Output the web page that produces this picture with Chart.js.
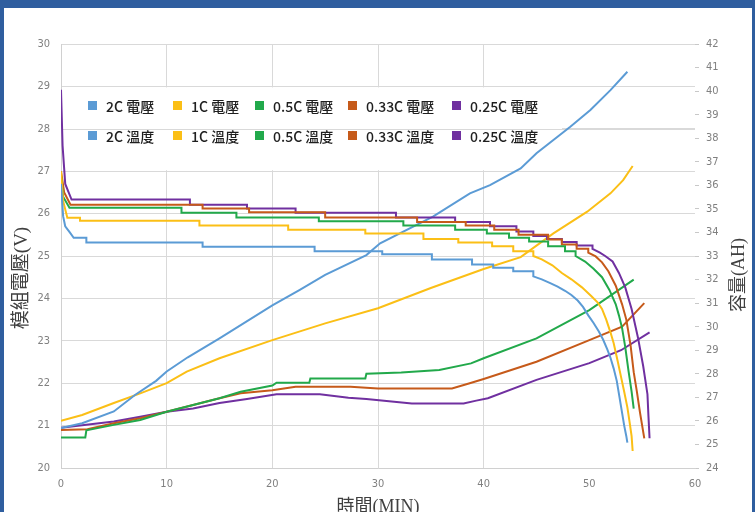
<!DOCTYPE html>
<html><head><meta charset="utf-8">
<script src="https://cdn.jsdelivr.net/npm/chart.js@4"></script>
<style>
html,body{margin:0;padding:0;background:#fff;}
#wrap{position:relative;width:755px;height:512px;overflow:hidden;background:#2f5e9f;}
#inner{position:absolute;left:4px;top:8px;width:748px;height:504px;background:#fff;}
#c{position:absolute;left:0;top:0;}
</style></head><body>
<div id="wrap"><div id="inner"></div><canvas id="c" width="755" height="512"></canvas></div>
<script>
// ---- categories / labels ----
const seriesNames = ['2C', '1C', '0.5C', '0.33C', '0.25C'];
const voltSuffix = ' 電壓';
const tempSuffix = ' 溫度';
const colors = ['#5b9bd5', '#fbbf16', '#22a94b', '#c65a1a', '#7030a0'];
const xTitle = '時間(MIN)';
const yLeftTitle = '模組電壓(V)';
const yRightTitle = '容量(AH)';

// ---- voltage series (left axis), time in minutes; repeated times = logged step changes ----
const timeV2C = [0, 0.2, 0.4, 0.85, 1.2, 2.4, 2.4, 13.4, 13.4, 24.0, 24.0, 30.4, 30.4, 35.1, 35.1, 38.9, 38.9, 40.9, 40.9, 42.8, 42.8, 44.7, 44.7, 45.5, 46.3, 47.0, 47.7, 48.3, 48.9, 49.4, 49.9, 50.4, 50.9, 51.3, 51.7, 52.0, 52.3, 52.6, 52.9, 53.1, 53.3, 53.5, 53.6];
const volt2C  = [26.7, 25.94, 25.7, 25.55, 25.43, 25.43, 25.32, 25.32, 25.22, 25.22, 25.11, 25.11, 25.04, 25.04, 24.92, 24.92, 24.80, 24.80, 24.72, 24.72, 24.64, 24.64, 24.52, 24.45, 24.36, 24.28, 24.18, 24.08, 23.95, 23.8, 23.6, 23.42, 23.22, 23.03, 22.8, 22.6, 22.35, 22.05, 21.6, 21.3, 21.0, 20.75, 20.6];

const timeV1C = [0, 0.2, 0.6, 1.8, 1.8, 13.1, 13.1, 21.5, 21.5, 28.8, 28.8, 34.3, 34.3, 37.6, 37.6, 40.8, 40.8, 42.8, 42.8, 44.7, 44.7, 45.5, 46.5, 47.4, 48.3, 49.3, 50.2, 50.8, 51.2, 51.6, 52.0, 52.3, 52.7, 53.0, 53.3, 53.6, 53.8, 54.0, 54.1];
const volt1C  = [27.0, 26.3, 25.9, 25.9, 25.83, 25.83, 25.72, 25.72, 25.62, 25.62, 25.53, 25.53, 25.40, 25.40, 25.32, 25.32, 25.23, 25.23, 25.11, 25.11, 25.0, 24.92, 24.78, 24.6, 24.45, 24.26, 24.05, 23.9, 23.75, 23.5, 23.2, 22.95, 22.5, 22.15, 21.8, 21.43, 21.1, 20.75, 20.4];

const timeV05 = [0, 0.2, 0.8, 11.4, 11.4, 16.6, 16.6, 24.4, 24.4, 32.4, 32.4, 37.3, 37.3, 40.3, 40.3, 42.4, 42.4, 44.3, 44.3, 46.1, 46.1, 47.7, 47.7, 48.7, 48.7, 49.6, 50.4, 51.2, 51.9, 52.5, 52.8, 53.1, 53.4, 53.7, 54.0, 54.2];
const volt05  = [26.9, 26.4, 26.14, 26.14, 26.02, 26.02, 25.91, 25.91, 25.82, 25.82, 25.72, 25.72, 25.62, 25.62, 25.53, 25.53, 25.43, 25.43, 25.34, 25.34, 25.23, 25.23, 25.11, 25.11, 25.0, 24.87, 24.7, 24.5, 24.2, 23.86, 23.6, 23.3, 22.85, 22.3, 21.8, 21.4];

const timeV033 = [0, 0.3, 0.9, 13.4, 13.4, 17.8, 17.8, 25.0, 25.0, 33.7, 33.7, 38.3, 38.3, 41.0, 41.0, 43.3, 43.3, 46.1, 46.1, 47.4, 47.4, 48.8, 48.8, 49.9, 49.9, 50.6, 51.2, 51.8, 52.5, 53.1, 53.5, 53.9, 54.2, 54.5, 54.8, 55.0, 55.2];
const volt033  = [27.0, 26.5, 26.21, 26.21, 26.12, 26.12, 26.03, 26.03, 25.91, 25.91, 25.80, 25.80, 25.72, 25.72, 25.62, 25.62, 25.5, 25.5, 25.39, 25.39, 25.27, 25.27, 25.17, 25.17, 25.08, 24.99, 24.85, 24.64, 24.3, 23.86, 23.5, 22.9, 22.26, 21.8, 21.3, 21.0, 20.7];

const timeV025 = [0, 0.15, 0.4, 1.0, 12.2, 12.2, 17.6, 17.6, 22.2, 22.2, 31.7, 31.7, 37.3, 37.3, 40.6, 40.6, 43.1, 43.1, 44.7, 44.7, 46.0, 46.0, 47.4, 47.4, 48.8, 48.8, 50.3, 50.3, 51.0, 51.5, 52.2, 52.8, 53.4, 54.0, 54.6, 55.1, 55.5, 55.6, 55.7];
const volt025  = [28.92, 27.6, 26.7, 26.33, 26.33, 26.21, 26.21, 26.12, 26.12, 26.02, 26.02, 25.91, 25.91, 25.80, 25.80, 25.70, 25.70, 25.58, 25.58, 25.47, 25.47, 25.40, 25.40, 25.33, 25.33, 25.25, 25.25, 25.17, 25.08, 25.0, 24.87, 24.6, 24.26, 23.75, 23.08, 22.4, 21.74, 21.2, 20.7];

// ---- temperature series (right axis) ----
const timeT2C = [0, 2, 5, 7, 9, 10, 12, 15, 20, 22.6, 25, 28.9, 30.2, 35.2, 38.7, 40.6, 43.5, 45, 48.2, 50.1, 52, 53.6];
const temp2C  = [25.7, 25.9, 26.4, 27.1, 27.7, 28.1, 28.7, 29.5, 30.9, 31.56, 32.2, 33.04, 33.54, 34.67, 35.66, 36.01, 36.72, 37.36, 38.49, 39.2, 40.04, 40.82];

const timeT1C = [0, 2, 5, 7.5, 10, 11.9, 15, 20, 25, 30, 35, 40, 43.5, 46.6, 49.8, 52, 53.2, 54.1];
const temp1C  = [26.0, 26.25, 26.76, 27.17, 27.6, 28.09, 28.66, 29.43, 30.14, 30.78, 31.64, 32.45, 32.95, 33.96, 34.88, 35.66, 36.22, 36.82];

const timeT05 = [0, 2.3, 2.4, 5, 7.5, 10, 15, 17, 20, 20.4, 23.5, 23.6, 28.8, 28.9, 32.2, 35.8, 38.8, 40, 45, 50, 54.2];
const temp05  = [25.3, 25.3, 25.6, 25.83, 26.04, 26.39, 26.96, 27.24, 27.5, 27.62, 27.62, 27.8, 27.8, 28.0, 28.05, 28.16, 28.44, 28.66, 29.5, 30.7, 32.0];

const timeT033 = [0, 2.5, 5, 7.5, 10, 15, 17, 20, 22.2, 27.4, 30, 37, 38.6, 40, 45, 50, 53.1, 55.2];
const temp033  = [25.61, 25.65, 25.9, 26.11, 26.39, 26.96, 27.17, 27.3, 27.45, 27.45, 27.38, 27.38, 27.59, 27.78, 28.51, 29.43, 30.0, 31.0];

const timeT025 = [0, 5, 7.5, 10, 12.5, 15, 17.6, 20.4, 24.5, 27.2, 28.9, 33.2, 38.1, 39.3, 40.4, 45, 50, 53, 55.7];
const temp025  = [25.71, 25.97, 26.18, 26.39, 26.53, 26.76, 26.93, 27.13, 27.13, 26.98, 26.93, 26.74, 26.74, 26.86, 26.96, 27.74, 28.45, 29.0, 29.76];

// ---- axis ranges / ticks ----
const xMin = 0, xMax = 60, xStep = 10;
const yLMin = 20, yLMax = 30, yLStep = 1;
const yRMin = 24, yRMax = 42, yRStep = 1;

const voltTimes = [timeV2C, timeV1C, timeV05, timeV033, timeV025];
const voltVals  = [volt2C, volt1C, volt05, volt033, volt025];
const tempTimes = [timeT2C, timeT1C, timeT05, timeT033, timeT025];
const tempVals  = [temp2C, temp1C, temp05, temp033, temp025];

const pts = (ts, vs) => ts.map((t, i) => ({x: t, y: vs[i]}));

const datasets = [];
seriesNames.forEach((n, i) => {
  datasets.push({label: n + voltSuffix, data: pts(voltTimes[i], voltVals[i]), borderColor: colors[i], backgroundColor: colors[i],
    yAxisID: 'y', borderWidth: 2, pointRadius: 0, tension: 0, fill: false});
});
seriesNames.forEach((n, i) => {
  datasets.push({label: n + tempSuffix, data: pts(tempTimes[i], tempVals[i]), borderColor: colors[i], backgroundColor: colors[i],
    yAxisID: 'y1', borderWidth: 2, pointRadius: 0, tension: 0, fill: false});
});

const tickFont = {family: '"Liberation Sans Narrow", "DejaVu Sans Condensed", "Noto Sans", sans-serif', size: 11};
const tickColor = '#808080';
const titleFamily = '"Liberation Serif", "Noto Sans CJK TC", serif';

const overlayPlugin = {
  id: 'overlay',
  beforeDatasetsDraw(chart) {
    const {ctx, chartArea, scales} = chart;
    const y = scales.y;
    ctx.save();
    // legend box (covers vertical gridlines)
    const top = y.getPixelForValue(29) + 1, bot = y.getPixelForValue(27) - 1;
    ctx.fillStyle = '#fff';
    ctx.fillRect(chartArea.left + 1, top, 500, bot - top);
    ctx.strokeStyle = '#d9d9d9'; ctx.lineWidth = 1;
    const y28 = Math.round(y.getPixelForValue(28)) + 0.5;
    ctx.beginPath(); ctx.moveTo(chartArea.left, y28); ctx.lineTo(chartArea.right, y28); ctx.stroke();
    // legend items
    const itemOffsets = [27, 112, 194, 287, 391];
    const rowY = [105.5, 135.5];
    ctx.font = '500 14px "Noto Sans CJK TC", "Noto Sans", sans-serif';
    ctx.textBaseline = 'middle';
    ctx.textAlign = 'left';
    [voltSuffix, tempSuffix].forEach((suf, r) => {
      seriesNames.forEach((n, i) => {
        const x0 = chartArea.left + itemOffsets[i];
        ctx.fillStyle = colors[i];
        ctx.fillRect(x0, rowY[r] - 4.5, 9, 9);
        ctx.fillStyle = '#1f1f1f';
        ctx.fillText(n + suf, x0 + 18, rowY[r] + 1);
      });
    });
    ctx.restore();
  },
  afterDraw(chart) {
    const {ctx, chartArea} = chart;
    ctx.save();
    ctx.fillStyle = '#404040';
    ctx.textAlign = 'center';
    ctx.textBaseline = 'middle';
    ctx.font = '18px ' + titleFamily;
    ctx.fillText(xTitle, (chartArea.left + chartArea.right) / 2, 507);
    ctx.font = '19px ' + titleFamily;
    ctx.save(); ctx.translate(22, 278); ctx.rotate(-Math.PI / 2); ctx.fillText(yLeftTitle, 0, 0); ctx.restore();
    ctx.font = '18px ' + titleFamily;
    ctx.save(); ctx.translate(739, 275); ctx.rotate(-Math.PI / 2); ctx.fillText(yRightTitle, 0, 0); ctx.restore();
    ctx.restore();
  }
};

new Chart(document.getElementById('c'), {
  type: 'line',
  data: {datasets},
  options: {
    responsive: false, animation: false, devicePixelRatio: 1,
    layout: {padding: {top: 44, left: 0, right: 0, bottom: 0}},
    plugins: {legend: {display: false}, tooltip: {enabled: false}},
    scales: {
      x: {type: 'linear', min: xMin, max: xMax,
        ticks: {stepSize: xStep, color: tickColor, font: tickFont, padding: 10},
        grid: {color: c => (c.tick && c.tick.value > xMin && c.tick.value < 50) ? '#d9d9d9' : 'rgba(0,0,0,0)', drawTicks: false, lineWidth: 1},
        border: {display: true, color: '#d0d0d0'},
        afterFit: s => { s.height = 44; }
      },
      y: {type: 'linear', position: 'left', min: yLMin, max: yLMax,
        ticks: {stepSize: yLStep, color: tickColor, font: tickFont, padding: 11},
        grid: {color: '#d9d9d9', drawTicks: false},
        border: {display: true, color: '#d0d0d0'},
        afterFit: s => { s.width = 61; }
      },
      y1: {type: 'linear', position: 'right', min: yRMin, max: yRMax,
        ticks: {stepSize: yRStep, color: tickColor, font: tickFont, padding: 7},
        grid: {drawOnChartArea: false, drawTicks: true, tickLength: 4, tickColor: '#c8c8c8'},
        border: {display: false},
        afterFit: s => { s.width = 60; }
      }
    }
  },
  plugins: [overlayPlugin]
});
</script>
</body></html>
